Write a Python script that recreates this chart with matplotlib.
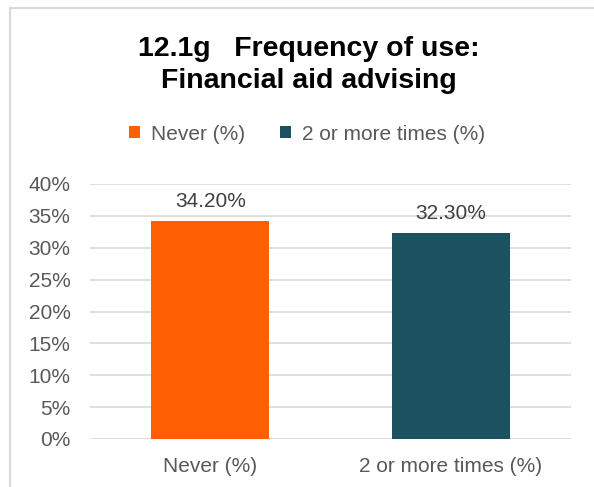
import numpy as np
import matplotlib
matplotlib.use("Agg")
import matplotlib.pyplot as plt
from matplotlib.patches import Rectangle, Patch
from matplotlib.ticker import FuncFormatter

plt.rcParams["font.family"] = ["Liberation Sans", "DejaVu Sans"]

categories = ["Never (%)", "2 or more times (%)"]
values = [34.20, 32.30]
colors = ["#FF5F00", "#1C5260"]
yticks = [0, 5, 10, 15, 20, 25, 30, 35, 40]
title_lines = ["12.1g   Frequency of use:", "Financial aid advising"]

W, H = 594, 487
fig = plt.figure(figsize=(W / 100, H / 100), dpi=100)

# outer border of the chart area
fig.patches.append(Rectangle((10 / W, -0.1), 1.2, (H - 8) / H + 0.1,
                             transform=fig.transFigure, fill=False,
                             edgecolor="#D9D9D9", linewidth=1.5))

ax = fig.add_axes([90 / W, (H - 439) / H, (571 - 90) / W, (439 - 184) / H])
x = np.arange(len(categories))
bars = ax.bar(x, values, width=0.49, color=colors, zorder=3)

ax.set_xlim(-0.5, 1.5)
ax.set_ylim(0, 40)
ax.set_yticks(yticks)
ax.yaxis.set_major_formatter(FuncFormatter(lambda v, p: f"{v:.0f}%"))
ax.set_xticks(x)
ax.set_xticklabels(categories)
ax.tick_params(axis="both", length=0, labelsize=15, colors="#595959")
ax.tick_params(axis="y", pad=14)
ax.tick_params(axis="x", pad=13)
ax.grid(axis="y", color="#D9D9D9", linewidth=1.2, zorder=0)
for s in ax.spines.values():
    s.set_visible(False)

for b, v in zip(bars, values):
    ax.annotate(f"{v:.2f}%", (b.get_x() + b.get_width() / 2, v),
                xytext=(0, 7), textcoords="offset points",
                ha="center", va="bottom", fontsize=15, color="#404040")

# title, two lines placed on their baselines
for line, base in zip(title_lines, [56, 88]):
    fig.text(309 / W, (H - base) / H, line, ha="center", va="baseline",
             fontsize=20.5, fontweight="bold", color="black")

handles = [Patch(facecolor=c) for c in colors]
fig.legend(handles, categories, loc="center", ncol=2,
           bbox_to_anchor=(307 / W, (H - 134) / H), frameon=False,
           fontsize=15, labelcolor="#595959", handlelength=0.53,
           handleheight=0.53, handletextpad=0.53, columnspacing=1.7,
           borderpad=0, borderaxespad=0)

fig.savefig("out.png", dpi=100)
